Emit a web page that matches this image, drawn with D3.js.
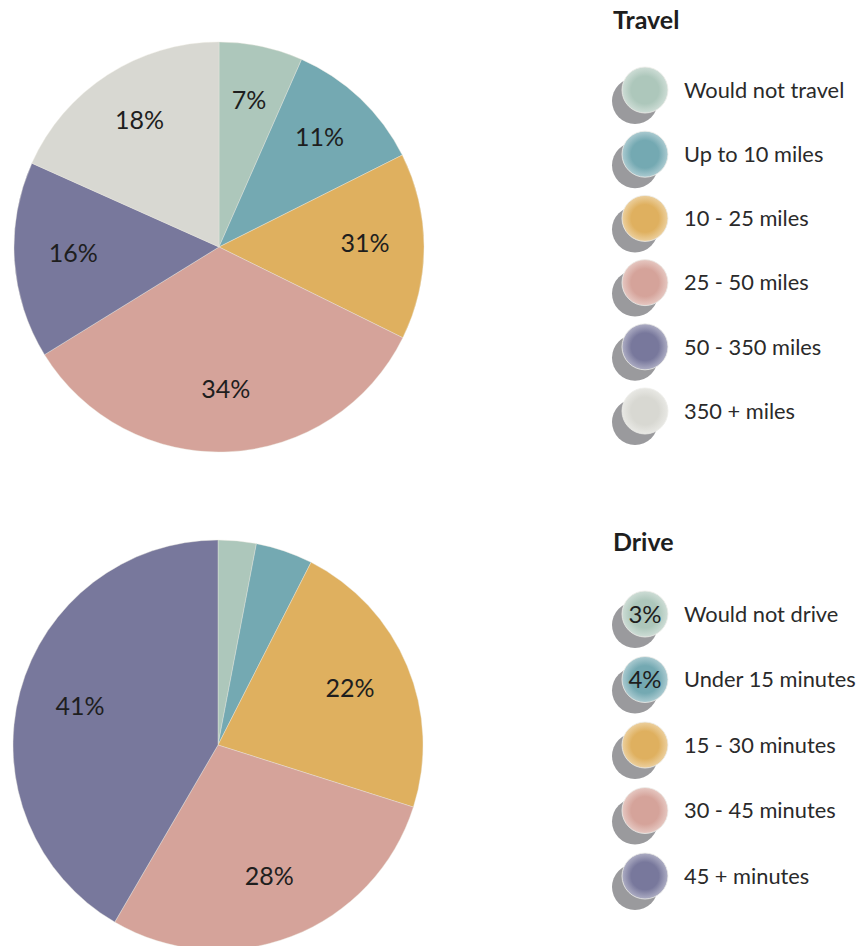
<!DOCTYPE html>
<html>
<head>
<meta charset="utf-8">
<script src="https://cdn.jsdelivr.net/npm/d3@7"></script>
<style>
body { margin: 0; background: #fff; }
svg { display: block; font-family: Lato, "Open Sans", sans-serif; }
</style>
</head>
<body>
<svg width="861" height="946"></svg>
<script>
// colours shared by both pies
var colors = ["#adc7bb", "#74a9b2", "#dfb05f", "#d5a39a", "#78789c", "#d8d8d2"];

// travel pie
var travelCats = ["Would not travel", "Up to 10 miles", "10 - 25 miles", "25 - 50 miles", "50 - 350 miles", "350 + miles"];
var travelVals = [6.6, 11, 14.7, 33.9, 15.5, 18.3];
var travelLabels = ["7%", "11%", "31%", "34%", "16%", "18%"];

// drive pie
var driveCats = ["Would not drive", "Under 15 minutes", "15 - 30 minutes", "30 - 45 minutes", "45 + minutes"];
var driveVals = [3, 4.5, 22.4, 28.5, 41.6];
var driveLabels = ["", "", "22%", "28%", "41%"];
var driveBadges = ["3%", "4%", "", "", ""];

var svg = d3.select("svg");
var defs = svg.append("defs");

colors.forEach(function(c, i) {
  var g = defs.append("radialGradient").attr("id", "grad" + i)
    .attr("cx", "50%").attr("cy", "50%").attr("r", "50%");
  g.append("stop").attr("offset", "0%").attr("stop-color", c);
  g.append("stop").attr("offset", "60%").attr("stop-color", c);
  g.append("stop").attr("offset", "100%").attr("stop-color", d3.interpolateRgb(c, "#fff")(0.4));
});

var pie = d3.pie().sort(null).value(function(d) { return d; });

function drawPie(vals, labels, cx, cy, r, labelR, shift) {
  var arc = d3.arc().innerRadius(0).outerRadius(r);
  var labelArc = d3.arc().innerRadius(labelR).outerRadius(labelR);
  var g = svg.append("g").attr("transform", "translate(" + cx + "," + cy + ")");
  var arcs = pie(vals);
  g.selectAll("path").data(arcs).enter().append("path")
    .attr("d", arc)
    .attr("fill", function(d, i) { return colors[i]; })
    .attr("stroke", "#ece8df")
    .attr("stroke-width", 0.4);
  g.selectAll("text").data(arcs).enter().append("text")
    .attr("transform", function(d) {
      var c = labelArc.centroid(d);
      return "translate(" + c[0] + "," + (c[1] + shift) + ")";
    })
    .attr("text-anchor", "middle")
    .attr("dy", "0.36em")
    .attr("font-size", 25)
    .attr("fill", "#1e1e1e")
    .text(function(d, i) { return labels[i]; });
}

function drawLegend(title, cats, badges, x, titleY, y0, step) {
  var g = svg.append("g");
  g.append("text")
    .attr("x", x).attr("y", titleY)
    .attr("font-size", 25).attr("font-weight", "bold")
    .attr("fill", "#1e1e1e")
    .text(title);
  var rows = g.selectAll("g.row").data(cats).enter().append("g")
    .attr("class", "row")
    .attr("transform", function(d, i) { return "translate(" + (x + 32) + "," + (y0 + i * step) + ")"; });
  rows.append("circle").attr("cx", -10).attr("cy", 11).attr("r", 23).attr("fill", "#9a9a9d");
  rows.append("circle").attr("r", 23)
    .attr("fill", function(d, i) { return "url(#grad" + i + ")"; })
    .attr("stroke", "#eeeeea").attr("stroke-width", 0.8);
  rows.append("text")
    .attr("x", 0).attr("dy", "0.36em")
    .attr("text-anchor", "middle")
    .attr("font-size", 24)
    .attr("fill", "#1e1e1e")
    .text(function(d, i) { return badges ? badges[i] : ""; });
  rows.append("text")
    .attr("x", 39).attr("dy", "0.36em")
    .attr("font-size", 21.8)
    .attr("fill", "#2a2a2a")
    .text(function(d) { return d; });
}

drawPie(travelVals, travelLabels, 219, 247, 205, 146, -4);
drawPie(driveVals, driveLabels, 218, 745, 205, 143, -2);

drawLegend("Travel", travelCats, null, 613, 29, 90, 64.2);
drawLegend("Drive", driveCats, driveBadges, 613, 551, 614, 65.5);
</script>
</body>
</html>
